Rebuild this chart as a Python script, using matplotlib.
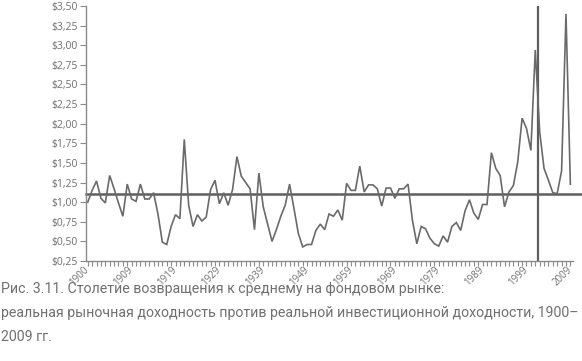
import matplotlib
matplotlib.use("Agg")
import matplotlib.pyplot as plt
import numpy as np
from matplotlib.ticker import FuncFormatter, FixedLocator, MultipleLocator

# Ratio values, one per year (111 points)
values = [
    1.00, 1.15, 1.27, 1.05, 0.99, 1.34, 1.17, 0.99, 0.82, 1.23,
    1.04, 1.01, 1.23, 1.04, 1.04, 1.12, 0.85, 0.49, 0.46, 0.69,
    0.84, 0.79, 1.80, 0.96, 0.69, 0.84, 0.76, 0.81, 1.16, 1.28,
    0.98, 1.12, 0.96, 1.16, 1.58, 1.33, 1.25, 1.17, 0.65, 1.37,
    0.94, 0.72, 0.50, 0.65, 0.82, 0.96, 1.23, 0.92, 0.60, 0.43,
    0.46, 0.46, 0.64, 0.72, 0.65, 0.85, 0.82, 0.90, 0.77, 1.24,
    1.15, 1.15, 1.46, 1.13, 1.22, 1.22, 1.17, 0.95, 1.18, 1.18,
    1.05, 1.17, 1.17, 1.23, 0.77, 0.47, 0.69, 0.66, 0.54, 0.47,
    0.44, 0.57, 0.49, 0.69, 0.74, 0.64, 0.89, 1.03, 0.86, 0.78,
    0.97, 0.97, 1.63, 1.43, 1.34, 0.94, 1.13, 1.21, 1.51, 2.07,
    1.94, 1.66, 2.94, 1.90, 1.43, 1.28, 1.12, 1.11, 1.40, 3.40,
    1.23,
]
tick_positions = [0, 10, 20, 30, 40, 50, 60, 70, 80, 90, 100, 110]
tick_labels = ["1900", "1909", "1919", "1929", "1939", "1949", "1959",
               "1969", "1979", "1989", "1999", "2009"]
mean_level = 1.11
marker_position = 102.6

caption_lines = [
    "Рис. 3.11. Столетие возвращения к среднему на фондовом рынке:",
    "реальная рыночная доходность против реальной инвестиционной доходности, 1900–",
    "2009 гг.",
]

W, H = 582, 361
fig = plt.figure(figsize=(W / 100, H / 100), dpi=100)
ax = fig.add_axes([86 / W, 1 - 261 / H, (573 - 86) / W, (261 - 6) / H])

x = np.arange(len(values))
ax.plot(x, values, color="#6a6a6a", lw=1.2, solid_joinstyle="miter", zorder=3)
ax.axhline(mean_level, xmin=0, xmax=1.02, color="#5e5e5e", lw=1.8, clip_on=False, zorder=2)
ax.axvline(marker_position, color="#5e5e5e", lw=1.6, zorder=2)

ax.set_xlim(-0.4, 110.6)
ax.set_ylim(0.25, 3.50)
ax.yaxis.set_major_locator(MultipleLocator(0.25))
ax.yaxis.set_major_formatter(FuncFormatter(lambda v, p: ("$%.2f" % v).replace(".", ",")))
ax.xaxis.set_major_locator(FixedLocator(tick_positions))
ax.set_xticklabels(tick_labels, rotation=45, ha="right", va="center", rotation_mode="anchor")
ax.xaxis.set_minor_locator(MultipleLocator(1))

for s in ["top", "right"]:
    ax.spines[s].set_visible(False)
for s in ["left", "bottom"]:
    ax.spines[s].set_color("#8a8a8a")
    ax.spines[s].set_linewidth(1.0)

ax.tick_params(axis="y", length=4, width=0.8, color="#8a8a8a", labelcolor="#6f6f6f",
               labelsize=7.5, pad=2)
ax.tick_params(axis="x", which="both", length=3.5, width=0.8, color="#8a8a8a",
               labelcolor="#6f6f6f", labelsize=7, pad=1.5)
for lab in ax.get_xticklabels() + ax.get_yticklabels():
    lab.set_fontfamily("Open Sans")

for line, ypix in zip(caption_lines, [289, 313, 337]):
    fig.text(1 / W, 1 - ypix / H, line, ha="left", va="center", fontsize=10.2,
             family="Roboto", color="#707070")

fig.savefig("out.png", dpi=100)
